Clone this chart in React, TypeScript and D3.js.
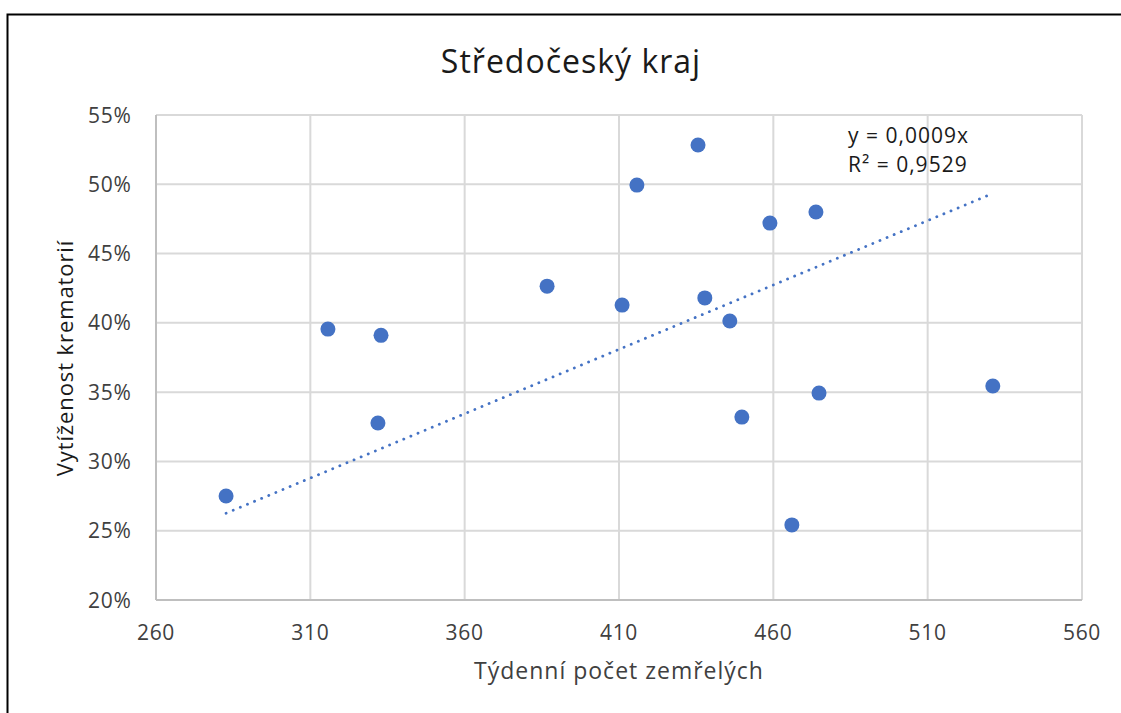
import React from "react";
import * as d3 from "d3";

const deaths = [282.7, 315.7, 332.9, 331.9, 386.7, 411, 415.8, 435.6, 437.8, 445.9, 449.8, 458.9, 466, 473.8, 474.8, 531.1];
const utilization = [0.275, 0.3955, 0.391, 0.3277, 0.4265, 0.4128, 0.4994, 0.5283, 0.418, 0.4013, 0.332, 0.472, 0.2542, 0.48, 0.3493, 0.3544];
const xTicks = [260, 310, 360, 410, 460, 510, 560];
const yTicks = [0.2, 0.25, 0.3, 0.35, 0.4, 0.45, 0.5, 0.55];
const trendSlope = 0.000929;
const title = "Středočeský kraj";
const xTitle = "Týdenní počet zemřelých";
const yTitle = "Vytíženost krematorií";
const eqLines = ["y = 0,0009x", "R² = 0,9529"];

const W = 1121;
const H = 713;
const plot = { left: 156, right: 1082, top: 115, bottom: 600 };
const FONT = "'Open Sans', 'Noto Sans', sans-serif";
const BLUE = "#4472C4";

export default function App() {
  const x = d3.scaleLinear().domain([260, 560]).range([plot.left, plot.right]);
  const y = d3.scaleLinear().domain([0.2, 0.55]).range([plot.bottom, plot.top]);
  const fmtPct = (v: number) => `${Math.round(v * 100)}%`;
  const xMin = d3.min(deaths) as number;
  const xMax = d3.max(deaths) as number;
  const trend = d3.line<number>().x((d) => x(d)).y((d) => y(d * trendSlope));

  return (
    <svg
      width={W}
      height={H}
      style={{ position: "absolute", left: 0, top: 0, background: "#fff" }}
      fontFamily={FONT}
    >
      <rect x={0} y={0} width={W} height={H} fill="#fff" />
      <rect x={7.5} y={14.5} width={1300} height={900} fill="none" stroke="#000" strokeWidth={2} />
      <text x={571} y={73} textAnchor="middle" fontSize={32} letterSpacing={1} fill="#1a1a1a">
        {title}
      </text>
      {xTicks.map((t) => (
        <line key={"gx" + t} x1={x(t)} x2={x(t)} y1={plot.top} y2={plot.bottom} stroke="#d9d9d9" strokeWidth={2} />
      ))}
      {yTicks.map((t) => (
        <line key={"gy" + t} x1={plot.left} x2={plot.right} y1={y(t)} y2={y(t)} stroke="#d9d9d9" strokeWidth={2} />
      ))}
      <line x1={plot.left} x2={plot.right} y1={plot.bottom} y2={plot.bottom} stroke="#bfbfbf" strokeWidth={2} />
      <line x1={plot.left} x2={plot.left} y1={plot.top} y2={plot.bottom} stroke="#bfbfbf" strokeWidth={2} />
      {yTicks.map((t) => (
        <text key={"ty" + t} x={131.5} y={y(t) + 7.5} textAnchor="end" fontSize={21} letterSpacing={0.7} fill="#404040">
          {fmtPct(t)}
        </text>
      ))}
      {xTicks.map((t) => (
        <text key={"tx" + t} x={x(t)} y={640} textAnchor="middle" fontSize={21} letterSpacing={0.7} fill="#404040">
          {t}
        </text>
      ))}
      <text x={619} y={679} textAnchor="middle" fontSize={23} letterSpacing={1} fill="#404040">
        {xTitle}
      </text>
      <text
        transform={`translate(73, ${358}) rotate(-90)`}
        textAnchor="middle"
        fontSize={22}
        letterSpacing={0.9}
        fill="#1a1a1a"
      >
        {yTitle}
      </text>
      <path
        d={trend([xMin, xMax]) ?? ""}
        fill="none"
        stroke={BLUE}
        strokeWidth={2.8}
        strokeLinecap="round"
        strokeDasharray="0.1 7.6"
      />
      {deaths.map((d, i) => (
        <circle key={"p" + i} cx={x(d)} cy={y(utilization[i])} r={7.5} fill={BLUE} />
      ))}
      {eqLines.map((l, i) => (
        <text key={"eq" + i} x={848} y={143 + i * 29} fontSize={21} letterSpacing={1} fill="#1a1a1a">
          {l}
        </text>
      ))}
    </svg>
  );
}
